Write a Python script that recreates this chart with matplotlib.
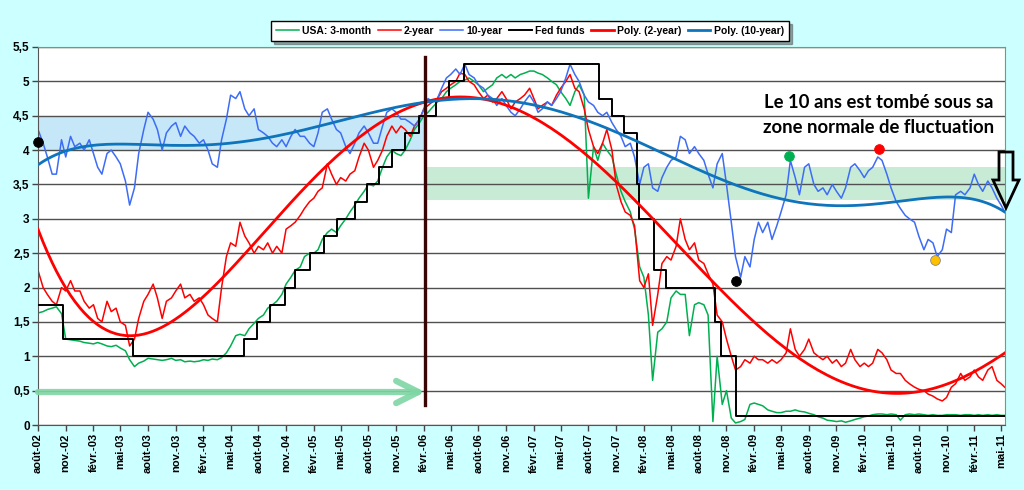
import numpy as np
import pandas as pd
import matplotlib
matplotlib.use('Agg')
from matplotlib import pyplot as plt
import matplotlib.dates as mdates
from matplotlib.patches import Polygon

# semi-monthly sampling (15 Aug 2002 .. 27 May 2011)
dates = list(pd.date_range('2002-08-15', '2011-05-15', freq='SMS')) + [pd.Timestamp('2011-05-27')]

bill_3m = [
    1.63, 1.65, 1.68, 1.70, 1.72, 1.62, 1.25, 1.24, 1.23, 1.22,
    1.20, 1.19, 1.18, 1.20, 1.18, 1.15, 1.14, 1.16, 1.12, 1.08, 0.95, 0.85,
    0.90, 0.93, 0.97, 0.96, 0.95, 0.94, 0.95, 0.97, 0.94, 0.95, 0.92, 0.93,
    0.92, 0.93, 0.95, 0.94, 0.96, 0.95, 0.98, 1.05, 1.15, 1.30, 1.32, 1.30,
    1.40, 1.48, 1.55, 1.60, 1.70, 1.75, 1.80, 1.90, 2.05, 2.15, 2.25, 2.30,
    2.45, 2.50, 2.50, 2.55, 2.70, 2.80, 2.85, 2.80, 2.90, 3.00, 3.10, 3.20,
    3.30, 3.40, 3.50, 3.48, 3.55, 3.75, 3.90, 4.00, 3.95, 3.92, 4.00, 4.15,
    4.30, 4.40, 4.50, 4.55, 4.62, 4.70, 4.75, 4.85, 4.90, 4.95, 5.00, 5.02,
    5.05, 5.00, 4.95, 4.85, 4.90, 4.95, 5.05, 5.10, 5.05, 5.10, 5.05, 5.10,
    5.12, 5.15, 5.15, 5.12, 5.10, 5.05, 5.00, 4.95, 4.85, 4.75, 4.65, 4.85,
    4.95, 4.80, 3.30, 4.05, 3.85, 4.10, 4.00, 3.90, 3.65, 3.40, 3.25, 3.10,
    2.85, 2.30, 2.15, 1.60, 0.65, 1.35, 1.40, 1.50, 1.85, 1.95, 1.90, 1.90,
    1.30, 1.75, 1.78, 1.75, 1.60, 0.05, 1.00, 0.30, 0.50, 0.10, 0.03, 0.05,
    0.08, 0.30, 0.32, 0.30, 0.28, 0.22, 0.20, 0.18, 0.18, 0.20, 0.20, 0.22,
    0.20, 0.19, 0.17, 0.15, 0.12, 0.10, 0.07, 0.06, 0.05, 0.06, 0.04, 0.06,
    0.08, 0.10, 0.12, 0.13, 0.15, 0.16, 0.16, 0.15, 0.16, 0.15, 0.07, 0.15,
    0.16, 0.15, 0.16, 0.15, 0.14, 0.15, 0.14, 0.14, 0.15, 0.15, 0.15, 0.14,
    0.15, 0.15, 0.14, 0.15, 0.14, 0.15, 0.14, 0.15, 0.14, 0.14,
]

note_2y = [
    2.25, 2.00, 1.90, 1.80, 1.75, 2.00, 1.95, 2.10, 1.95, 1.95,
    1.80, 1.70, 1.75, 1.55, 1.50, 1.80, 1.65, 1.70, 1.50, 1.45, 1.15, 1.25,
    1.55, 1.80, 1.90, 2.05, 1.85, 1.55, 1.80, 1.85, 1.95, 2.05, 1.85, 1.90,
    1.80, 1.85, 1.75, 1.60, 1.55, 1.50, 2.00, 2.45, 2.65, 2.60, 2.95, 2.75,
    2.65, 2.50, 2.60, 2.55, 2.65, 2.50, 2.60, 2.50, 2.85, 2.90, 2.95, 3.05,
    3.15, 3.25, 3.30, 3.40, 3.45, 3.80, 3.65, 3.50, 3.60, 3.55, 3.65, 3.70,
    3.90, 4.10, 4.00, 3.75, 3.85, 4.00, 4.20, 4.35, 4.25, 4.35, 4.30, 4.20,
    4.35, 4.45, 4.60, 4.65, 4.70, 4.75, 4.85, 4.90, 4.95, 5.00, 5.12, 5.10,
    5.00, 4.95, 4.85, 4.75, 4.80, 4.70, 4.75, 4.85, 4.75, 4.60, 4.70, 4.75,
    4.80, 4.90, 4.75, 4.60, 4.65, 4.70, 4.65, 4.80, 4.90, 5.00, 5.10, 4.90,
    4.85, 4.60, 4.30, 4.05, 3.95, 4.10, 4.30, 4.00, 3.50, 3.25, 3.10, 3.05,
    2.90, 2.10, 2.00, 2.20, 1.45, 1.90, 2.35, 2.45, 2.40, 2.60, 3.00, 2.70,
    2.55, 2.65, 2.40, 2.35, 2.20, 2.05, 1.60, 1.50, 1.25, 1.00, 0.80, 0.85,
    0.95, 0.90, 1.00, 0.95, 0.95, 0.90, 0.95, 0.90, 0.95, 1.05, 1.40, 1.10,
    1.00, 1.10, 1.25, 1.05, 1.00, 0.95, 1.00, 0.90, 0.95, 0.85, 0.90, 1.10,
    0.95, 0.85, 0.90, 0.85, 0.90, 1.10, 1.05, 0.95, 0.80, 0.75, 0.75, 0.65,
    0.60, 0.55, 0.52, 0.50, 0.45, 0.42, 0.38, 0.35, 0.40, 0.55, 0.60, 0.75,
    0.65, 0.70, 0.80, 0.70, 0.65, 0.80, 0.85, 0.65, 0.60, 0.55,
]

note_10y = [
    4.30, 4.10, 3.90, 3.65, 3.65, 4.15, 3.90, 4.20, 4.05, 4.10,
    4.00, 4.15, 3.95, 3.75, 3.65, 3.95, 4.00, 3.90, 3.80, 3.55, 3.20, 3.45,
    3.95, 4.30, 4.55, 4.45, 4.30, 4.00, 4.25, 4.35, 4.40, 4.20, 4.35, 4.25,
    4.20, 4.10, 4.15, 4.00, 3.80, 3.75, 4.15, 4.45, 4.80, 4.75, 4.85, 4.60,
    4.50, 4.60, 4.30, 4.25, 4.20, 4.10, 4.05, 4.15, 4.05, 4.20, 4.30, 4.20,
    4.20, 4.10, 4.05, 4.25, 4.55, 4.60, 4.45, 4.30, 4.25, 4.05, 3.95, 4.10,
    4.25, 4.35, 4.25, 4.10, 4.10, 4.35, 4.55, 4.60, 4.55, 4.45, 4.45, 4.40,
    4.35, 4.45, 4.60, 4.75, 4.70, 4.75, 4.90, 5.05, 5.10, 5.18, 5.10, 5.25,
    5.10, 5.05, 4.95, 4.90, 4.80, 4.75, 4.65, 4.75, 4.65, 4.55, 4.50, 4.60,
    4.70, 4.80, 4.70, 4.55, 4.60, 4.70, 4.65, 4.75, 4.85, 5.05, 5.25, 5.10,
    5.00, 4.80, 4.70, 4.65, 4.55, 4.50, 4.55, 4.40, 4.30, 4.20, 4.05, 4.10,
    3.90, 3.50, 3.75, 3.80, 3.45, 3.40, 3.60, 3.75, 3.85, 3.90, 4.20, 4.15,
    3.95, 4.05, 3.95, 3.85, 3.65, 3.45, 3.80, 3.95, 3.50, 2.95, 2.45, 2.15,
    2.45, 2.30, 2.70, 2.95, 2.80, 2.95, 2.70, 2.90, 3.10, 3.35, 3.85, 3.60,
    3.35, 3.75, 3.80, 3.50, 3.40, 3.45, 3.35, 3.50, 3.40, 3.30, 3.45, 3.75,
    3.80, 3.70, 3.60, 3.70, 3.75, 3.90, 3.85, 3.65, 3.45, 3.25, 3.15, 3.05,
    3.00, 2.95, 2.75, 2.55, 2.70, 2.65, 2.45, 2.55, 2.85, 2.80, 3.35, 3.40,
    3.35, 3.45, 3.65, 3.50, 3.40, 3.55, 3.45, 3.30, 3.20, 3.10,
]

fed_dates = ['2002-08-15', '2002-11-06', '2003-06-25', '2004-06-30', '2004-08-10',
             '2004-09-21', '2004-11-10', '2004-12-14', '2005-02-02', '2005-03-22',
             '2005-05-03', '2005-06-30', '2005-08-09', '2005-09-20', '2005-11-01',
             '2005-12-13', '2006-01-31', '2006-03-28', '2006-05-10', '2006-06-29',
             '2007-09-18', '2007-10-31', '2007-12-11', '2008-01-22', '2008-01-30',
             '2008-03-18', '2008-04-30', '2008-10-08', '2008-10-29', '2008-12-16',
             '2011-05-27']
fed_rates = [1.75, 1.25, 1.00, 1.25, 1.50, 1.75, 2.00, 2.25, 2.50, 2.75, 3.00, 3.25,
             3.50, 3.75, 4.00, 4.25, 4.50, 4.75, 5.00, 5.25, 4.75, 4.50, 4.25, 3.50,
             3.00, 2.25, 2.00, 1.50, 1.00, 0.125, 0.125]

# trend curves (the spreadsheet's polynomial trendlines)
trend_dates = ['2002-08-15', '2002-11-22', '2003-03-14', '2003-07-02', '2003-10-20',
               '2004-02-10', '2004-05-30', '2004-10-28', '2005-03-24', '2005-09-08',
               '2006-02-22', '2006-06-01', '2007-01-20', '2007-04-24', '2007-08-15',
               '2007-12-03', '2008-03-22', '2008-07-12', '2008-10-30', '2009-04-15',
               '2009-07-15', '2009-11-08', '2010-02-26', '2010-06-15', '2010-10-06',
               '2011-01-24', '2011-03-31', '2011-05-27']
trend_2y = [2.87, 1.92, 1.43, 1.27, 1.48, 1.82, 2.40, 3.06, 3.81, 4.34,
            4.66, 4.71, 4.47, 4.32, 4.00, 3.56, 2.94, 2.40, 1.92, 1.30,
            0.95, 0.65, 0.51, 0.47, 0.55, 0.75, 0.88, 1.03]
trend_10y = [3.79, 4.00, 4.06, 4.08, 4.08, 4.08, 4.13, 4.21, 4.35, 4.55,
             4.70, 4.74, 4.68, 4.61, 4.44, 4.22, 4.00, 3.75, 3.56, 3.34,
             3.26, 3.19, 3.20, 3.26, 3.30, 3.30, 3.23, 3.10]

# highlighted points on the 10-year
dot_dates = ['2002-08-15', '2008-12-18', '2009-06-10', '2010-04-05', '2010-10-08']
dot_values = [4.12, 2.09, 3.91, 4.02, 2.40]
dot_colors = ['black', 'black', '#00b050', '#ff0000', '#ffc000']

break_date = '2006-02-20'
month_names = {8: 'août', 11: 'nov.', 2: 'févr.', 5: 'mai'}

dates = pd.to_datetime(dates)
fed_dates = pd.to_datetime(fed_dates)
trend_dates = pd.to_datetime(trend_dates)
t = mdates.date2num(dates)
t0 = t[0]

fig = plt.figure(figsize=(10.24, 4.9), dpi=100, facecolor='#ccffff')
ax = fig.add_axes([38 / 1024, 1 - 425 / 490, 967 / 1024, 378 / 490])
ax.set_facecolor('white')

bd = pd.Timestamp(break_date)
ax.fill_between([dates[0], bd], 4.0, 4.5, color='#c5e7f7', lw=0, zorder=0.3)
ax.fill_between([bd, dates[-1]], 3.28, 3.76, color='#c8ebd6', lw=0, zorder=0.3)

ax.plot(dates, bill_3m, color='#00b050', lw=1.1, label='USA: 3-month', zorder=2)
ax.plot(dates, note_2y, color='#ff0000', lw=1.1, label='2-year', zorder=2)
ax.plot(dates, note_10y, color='#3d6cf5', lw=1.1, label='10-year', zorder=2)
ax.step(fed_dates, fed_rates, where='post', color='black', lw=1.4, label='Fed funds', zorder=3)

# polynomial trend lines fitted through the read-off trend points
u = (t - t0) / 1000.0
ut = (mdates.date2num(trend_dates) - t0) / 1000.0
p2 = np.polyfit(ut, trend_2y, 6)
p10 = np.polyfit(ut, trend_10y, 6)
ax.plot(dates, np.polyval(p2, u), color='#ff0000', lw=2.0, label='Poly. (2-year)', zorder=4)
ax.plot(dates, np.polyval(p10, u), color='#0e74bb', lw=2.0, label='Poly. (10-year)', zorder=4)

ax.plot([bd, bd], [0.29, 5.35], color='#3a0505', lw=2.4, zorder=5)
ax.annotate('', xy=(bd, 0.48), xytext=(dates[0], 0.48),
            arrowprops=dict(arrowstyle='->,head_length=1.6,head_width=0.8',
                            color='#7fd6a4', lw=4.5, alpha=0.9, shrinkA=0, shrinkB=0),
            zorder=5)

for d, v, c in zip(pd.to_datetime(dot_dates), dot_values, dot_colors):
    ax.plot(d, v, 'o', color=c, ms=7, mec='#888888' if c == '#ffc000' else c,
            mew=0.6, zorder=6, clip_on=False)

ax.set_xlim(dates[0], pd.Timestamp('2011-05-28'))
ax.set_ylim(0, 5.5)
ax.set_yticks(np.arange(0, 5.51, 0.5))
ax.set_yticklabels([('%g' % v).replace('.', ',') for v in np.arange(0, 5.51, 0.5)])
ticks = pd.date_range('2002-08-15', '2011-05-15', freq=pd.DateOffset(months=3))
ax.set_xticks(ticks)
ax.set_xticklabels(['%s-%02d' % (month_names[d.month], d.year % 100) for d in ticks],
                   rotation=90)
for lab in ax.get_xticklabels() + ax.get_yticklabels():
    lab.set_fontfamily('Liberation Sans')
    lab.set_fontweight('bold')
for lab in ax.get_xticklabels():
    lab.set_fontsize(8)
for lab in ax.get_yticklabels():
    lab.set_fontsize(8.5)
ax.tick_params(axis='both', direction='out', length=4, width=1, color='#444444', pad=2)
ax.yaxis.grid(True, color='#505050', lw=1.0)
ax.set_axisbelow(True)
ax.spines['left'].set_color('#555555')
ax.spines['bottom'].set_color('#555555')
ax.spines['top'].set_color('#44b860')
ax.spines['right'].set_color('#44b860')

fig.text(879 / 1024, 1 - 115 / 490, 'Le 10 ans est tombé sous sa\nzone normale de fluctuation',
         ha='center', va='center', fontsize=13.3, fontfamily='Lato', fontweight='bold',
         linespacing=1.55, color='black')

arrow_px = [(999, 152), (1013, 152), (1013, 180), (1019, 180), (1006, 208),
            (993, 180), (999, 180)]
fig.add_artist(Polygon([(x / 1024, 1 - y / 490) for x, y in arrow_px], closed=True,
                       fill=False, ec='black', lw=2.0, transform=fig.transFigure,
                       joinstyle='miter'))

leg = fig.legend(loc='center', bbox_to_anchor=(530 / 1024, 1 - 31 / 490), ncol=6,
                 prop={'family': 'Liberation Sans', 'weight': 'bold', 'size': 7.5},
                 frameon=True, fancybox=False, shadow=True, edgecolor='black',
                 handlelength=2.2, handletextpad=0.3, columnspacing=0.6,
                 borderpad=0.5, borderaxespad=0)
leg.get_frame().set_linewidth(1.0)

plt.savefig('out.png', dpi=100, facecolor=fig.get_facecolor())
